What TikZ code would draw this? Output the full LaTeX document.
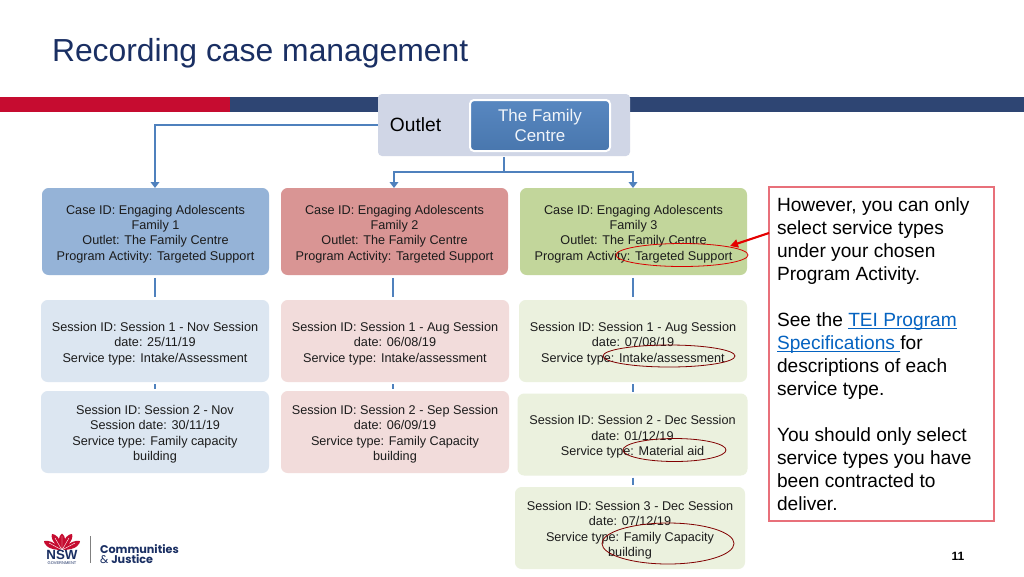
\documentclass[tikz,border=0pt]{standalone}
\usepackage{fontspec}
\setmainfont{Liberation Sans}
\newfontfamily\logofont{Poppins}
\usetikzlibrary{shadows,arrows.meta}
\definecolor{navy}{HTML}{2E4573}
\definecolor{nswred}{HTML}{C60C30}
\definecolor{titleblue}{HTML}{1A2F63}
\definecolor{lineblue}{HTML}{4F81BD}
\definecolor{panel}{HTML}{D0D6E6}
\definecolor{caseA}{HTML}{95B3D7}
\definecolor{caseB}{HTML}{D99594}
\definecolor{caseC}{HTML}{C2D69B}
\definecolor{sessA}{HTML}{DCE6F1}
\definecolor{sessB}{HTML}{F2DCDB}
\definecolor{sessC}{HTML}{EBF1DE}
\definecolor{linkblue}{HTML}{0563C1}
\definecolor{noteline}{HTML}{E8707A}
\definecolor{inktext}{HTML}{1C1C1C}
\newcommand{\tg}{\rule{0pt}{10.4pt}}
\tikzset{
 every node/.style={inner sep=0pt,outer sep=0pt,text=black},
 px/.style 2 args={minimum width=#1*0.75pt,minimum height=#2*0.75pt},
 flat/.style={rounded corners=5pt,align=center,text=inktext,font=\fontsize{9.5}{11.55}\selectfont},
 casebox/.style={flat,px={227}{87}},
 sessbox/.style={flat,px={228}{82}},
 conn/.style={draw=lineblue,line width=2.2pt},
 tipconn/.style={conn,-{Triangle[length=4.5pt,width=6.5pt]}},
 ring/.style={draw=#1,line width=0.6pt},
 ring/.default={red!50!black},
}
\begin{document}
\begin{tikzpicture}[x=0.75pt,y=-0.75pt]
\useasboundingbox (0,0) rectangle (1024,576);
\fill[white] (0,0) rectangle (1024,576);
% title and band
\node[anchor=base west,font=\fontsize{23.9}{28}\selectfont,text=titleblue] (title) at (52,61) {Recording case management};
\fill[nswred] (0,97) rectangle (230,112);
\fill[navy] (230,97) rectangle (1024,112);
% outlet
\node[fill=panel,rounded corners=3pt,px={252}{62}] (panel) at (504,125) {};
\node[font=\fontsize{14.4}{18}\selectfont] (outlet) at (415.5,124.5) {Outlet};
\node[rounded corners=3pt,draw=white,line width=1.5pt,top color=lineblue!95!white,bottom color=lineblue!92!black,px={140}{51},align=center,font=\fontsize{12.7}{14.4}\selectfont,text=white!92!lineblue] (centre) at (540,125.5) {The Family\\Centre};
% cases
\node[casebox,fill=caseA] (c1) at (155.5,231.5) {\tg Case ID: Engaging Adolescents\\Family 1\\Outlet: The Family Centre\\Program Activity: Targeted Support};
\node[casebox,fill=caseB] (c2) at (394.5,231.5) {\tg Case ID: Engaging Adolescents\\Family 2\\Outlet: The Family Centre\\Program Activity: Targeted Support};
\node[casebox,fill=caseC] (c3) at (633.5,231.5) {\tg Case ID: Engaging Adolescents\\Family 3\\Outlet: The Family Centre\\Program Activity: Targeted Support};
% sessions
\node[sessbox,fill=sessA] (s11) at (155,341) {\tg Session ID: Session 1 - Nov Session\\date: 25/11/19\\Service type: Intake/Assessment};
\node[sessbox,fill=sessB] (s21) at (395,341) {\tg Session ID: Session 1 - Aug Session\\date: 06/08/19\\Service type: Intake/assessment};
\node[sessbox,fill=sessC] (s31) at (633,341) {\tg Session ID: Session 1 - Aug Session\\date: 07/08/19\\Service type: Intake/assessment};
\node[sessbox,fill=sessA] (s12) at (155,432) {\tg Session ID: Session 2 - Nov\\Session date: 30/11/19\\Service type: Family capacity\\building};
\node[sessbox,fill=sessB] (s22) at (395,432) {\tg Session ID: Session 2 - Sep Session\\date: 06/09/19\\Service type: Family Capacity\\building};
\node[sessbox,fill=sessC,minimum width=172.5pt] (s32) at (632.5,434.5) {\tg Session ID: Session 2 - Dec Session\\date: 01/12/19\\Service type: Material aid};
\node[sessbox,fill=sessC,minimum width=172.5pt] (s33) at (630,528) {\tg Session ID: Session 3 - Dec Session\\date: 07/12/19\\Service type: Family Capacity\\building};
% connectors
\coordinate (leftjog) at (155,125);
\draw[tipconn] (panel.west |- leftjog) -- (leftjog) -- (c1.north -| leftjog);
\coordinate (trunk) at (504,172);
\coordinate (jogB) at (394,172);
\coordinate (jogC) at (633,172);
\draw[conn] (504,157) -- (trunk);
\draw[tipconn] (trunk) -- (jogB) -- (c2.north -| jogB);
\draw[tipconn] (trunk) -- (jogC) -- (c3.north -| jogC);
\foreach \a/\b/\x in {c1/s11/155,c2/s21/393,c3/s31/633}{
  \draw[conn,shorten <=2.2pt,shorten >=2.2pt] (\a.south -| \x,0) -- (\b.north -| \x,0);
}
\foreach \a/\b/\x in {s11/s12/155,s21/s22/393,s31/s32/633,s32/s33/633}{
  \draw[conn,shorten <=1.5pt,shorten >=1.5pt] (\a.south -| \x,0) -- (\b.north -| \x,0);
}
% note
\node[draw=noteline,line width=0.8pt,fill=white,px={225}{334},anchor=north west] (note) at (769,187) {};
\node[anchor=west,align=left,font=\fontsize{14.35}{17.25}\selectfont] (notetext) at (777,354) {However, you can only\\select service types\\under your chosen\\Program Activity.\\[17.25pt]See the \textcolor{linkblue}{\underline{\smash{TEI Program}}}\\\textcolor{linkblue}{\underline{\smash{Specifications\ }}}for\\descriptions of each\\service type.\\[17.25pt]You should only select\\service types you have\\been contracted to\\deliver.};
% ellipses
\draw[ring=red!85!black] (682,255) ellipse [x radius=66,y radius=11.5];
\draw[ring] (669,356) ellipse [x radius=66,y radius=11];
\draw[ring] (674.5,450) ellipse [x radius=51.5,y radius=11.5];
\draw[ring] (668,543.5) ellipse [x radius=66,y radius=20.5];
% arrow
\coordinate (ptr) at (730,246);
\draw[draw=red!90!black,line width=1.6pt,-{Triangle[length=6pt,width=6pt]}] (note.west |- 0,233) -- (ptr);
% logo
\begin{scope}
\fill[nswred] (62,550) .. controls (46,550) and (44,543) .. (44,541) .. controls (50,540) and (54,543) .. (56,545) .. controls (52,540) and (51,537) .. (52,534) .. controls (55,534) and (58,537) .. (59,539) .. controls (59,537) and (60,535) .. (62,533.5) .. controls (64,535) and (65,537) .. (65,539) .. controls (66,537) and (69,534) .. (72,534) .. controls (73,537) and (72,540) .. (68,545) .. controls (70,543) and (74,540) .. (80,541) .. controls (80,543) and (78,550) .. (62,550) -- cycle;
\draw[white,line width=0.3pt] (62,550) -- (62,536) (62,550) -- (55,538) (62,550) -- (69,538) (62,550) -- (49,543) (62,550) -- (75,543);
\end{scope}
\node[font=\bfseries\fontsize{10}{10}\selectfont,text=titleblue] (nsw) at (62,554.5) {NSW};
\node[font=\fontsize{3}{3}\selectfont,text=titleblue] (gov) at (62,563) {GOVERNMENT};
\fill[gray] (89.5,536) rectangle (90.5,563);
\node[anchor=base west,font=\logofont\bfseries\fontsize{8.4}{10}\selectfont,text=titleblue] (comm) at (100,553) {Communities};
\node[anchor=base west,font=\logofont\fontsize{8.4}{10}\selectfont,text=titleblue] (just) at (100,563.5) {\& \textbf{Justice}};
\node[font=\bfseries\fontsize{9}{11}\selectfont,text=black] (page) at (958,556) {11};
\end{tikzpicture}
\end{document}
